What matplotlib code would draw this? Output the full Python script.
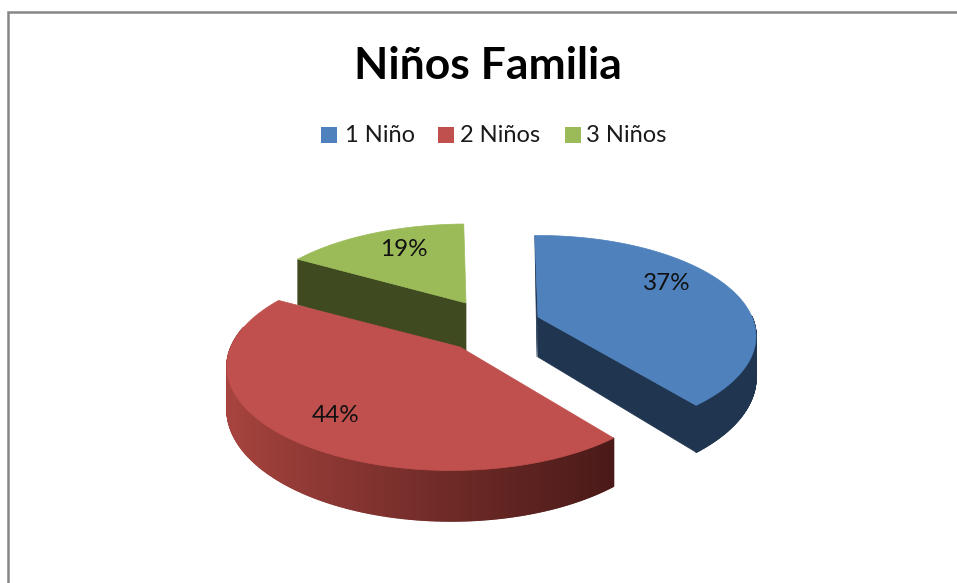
import numpy as np
import matplotlib
matplotlib.use("Agg")
import matplotlib.pyplot as plt
from matplotlib.collections import PolyCollection
from matplotlib.colors import to_rgb

title = "Niños Familia"
categories = ["1 Niño", "2 Niños", "3 Niños"]
percent = [37, 44, 19]
top_colors = ["#4F81BD", "#C0504D", "#9BBB59"]
cut_colors = ["#1F3550", "#4A1A18", "#3F4A20"]

# disc centre and visible point of each slice once exploded, in pixels
centers = [(538, 317), (451, 347), (467, 303)]
apexes = [(538, 317), (460, 347), (466, 303)]
radius_x = [214, 220, 216]
radius_y = [97, 100, 94]
depths = [40, 41, 50]
tilt = 0.19
start_angle = -1
side_warp = 13.5
side_skew = 1.8


# clockwise degrees from 12 o'clock, with a bit of perspective on the disc
def project(c, rx, ry, deg, drop=0):
    t = np.radians(deg)
    t = t + np.radians(side_warp) * np.sin(t) ** 2 + np.radians(side_skew) * np.sin(t)
    x = np.sin(t)
    y = -np.cos(t)
    d = 1 - tilt * y
    return c[0] + rx * x / d, c[1] + ry * y / d + drop / d


def mix(a, b, f):
    a, b = np.array(to_rgb(a)), np.array(to_rgb(b))
    return tuple(a + (b - a) * f)


def rim_strip(ax, c, rx, ry, depth, angles, colors):
    polys = []
    for a0, a1 in zip(angles[:-1], angles[1:]):
        polys.append([project(c, rx, ry, a0), project(c, rx, ry, a1),
                      project(c, rx, ry, a1, depth), project(c, rx, ry, a0, depth)])
    ax.add_collection(PolyCollection(polys, facecolors=colors, edgecolors=colors, linewidths=1.0))


fig = plt.figure(figsize=(9.57, 5.83), dpi=100)
ax = fig.add_axes([0, 0, 1, 1])
ax.set_xlim(0, 957)
ax.set_ylim(583, 0)
ax.axis("off")

# chart frame, only top and left fall inside the canvas
ax.plot([8, 8, 957], [583, 12, 12], color="#868686", lw=1.8, solid_joinstyle="miter")

plt.rcParams["font.family"] = "Lato"
ax.text(488, 66, title, fontsize=32, fontweight="bold", ha="center", va="center", color="black")

swatch_x = [321, 438, 565]
label_x = [345, 460, 586]
for sx, lx, name, col in zip(swatch_x, label_x, categories, top_colors):
    ax.fill([sx, sx + 16, sx + 16, sx], [127, 127, 143, 143], color=col, lw=0)
    ax.text(lx, 135, name, fontsize=17, va="center", ha="left", color="#1a1a1a")

edges = start_angle + np.cumsum([0] + percent) * 3.6

# back to front: green, blue, red
for i in [2, 0, 1]:
    a0, a1 = edges[i], edges[i + 1]
    c = centers[i]
    apex = apexes[i]
    rx = radius_x[i]
    ry = radius_y[i]
    depth = depths[i]
    angles = np.linspace(a0, a1, 400)

    # flat cut face on the side of the slice facing the viewer
    if i == 0:
        end = project(c, rx, ry, a1)
        end_low = project(c, rx, ry, a1, depth)
        ax.fill([apex[0], end[0], end_low[0], apex[0]],
                [apex[1], end[1], end_low[1], apex[1] + depth], color=cut_colors[0], lw=0.5)
        front = angles[angles > 75]
        rim_strip(ax, c, rx, ry, depth, front, [cut_colors[0]] * (len(front) - 1))
        first = project(c, rx, ry, a0)
        ax.fill([first[0], apex[0], apex[0] - 1], [first[1], apex[1], apex[1] + depth],
                color=cut_colors[0], lw=0.5)
    elif i == 1:
        front = angles[angles < 270]
        xs = np.array([project(c, rx, ry, a)[0] for a in front])
        f = (xs[:-1] - xs.min()) / (xs.max() - xs.min())
        shades = [mix("#A8443F", "#4A1A18", v ** 0.9) for v in f]
        rim_strip(ax, c, rx, ry, depth, front, shades)
    else:
        start = project(c, rx, ry, a0)
        start_low = project(c, rx, ry, a0, depth)
        ax.fill([apex[0], start[0], start_low[0], apex[0]],
                [apex[1], start[1], start_low[1], apex[1] + depth], color=cut_colors[2], lw=0.5)

    pts = [apex] + [project(c, rx, ry, a) for a in angles]
    ax.fill([p[0] for p in pts], [p[1] for p in pts], color=top_colors[i], lw=0.5)

label_pos = [(667, 283), (336, 416), (404, 249)]
for pos, val in zip(label_pos, percent):
    ax.text(pos[0], pos[1], f"{val}%", fontsize=17.5, ha="center", va="center", color="#111111")

fig.savefig("out.png", dpi=100, facecolor="white")
